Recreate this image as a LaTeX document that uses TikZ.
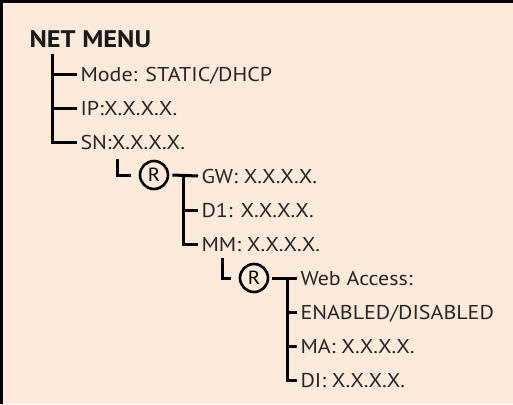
\documentclass[tikz,border=0pt]{standalone}
\usepackage{fontspec}
\setmainfont{PT Sans}[FakeStretch=1.1]
\definecolor{bg}{HTML}{FDEADB}
\begin{document}
\begin{tikzpicture}[x=1pt,y=-1pt,
  line width=3pt, line cap=butt,
  item/.style={anchor=west, inner xsep=2pt, inner ysep=0pt, text height=14pt, text depth=0pt,
    font=\fontsize{20}{20}\selectfont, text=black!85},
  title/.style={anchor=west, inner sep=0pt, text height=17pt, text depth=0pt,
    font=\fontsize{24}{24}\selectfont\bfseries, text=black!90},
  rmark/.style={circle, draw, line width=2.6pt, minimum size=28pt, inner sep=0pt,
    font=\fontsize{19}{19}\selectfont},
  tree/.style={draw, line width=3pt}]
\fill[bg] (0,0) rectangle (513,404);
\useasboundingbox (0,0) rectangle (513,404);
\draw[line width=3pt] (1.5,404) -- (1.5,1.5) -- (513,1.5);

% level 0
\node[title] (net) at (28,39) {NET MENU};
\node[item] (mode) at (77,74) {Mode: STATIC/DHCP};
\node[item] (ip) at (77,108) {IP:X.X.X.X.};
\node[item] (sn) at (77,142) {SN:X.X.X.X.};
\coordinate (t0) at (52,54);
\draw[tree] (t0) |- (sn.west);
\draw[tree] (t0 |- mode.west) -- (mode.west);
\draw[tree] (t0 |- ip.west) -- (ip.west);

% level 1
\node[rmark] (r1) at (154,175) {R};
\node[item] (gw) at (198,176) {GW: X.X.X.X.};
\node[item] (d1) at (198,210) {D1: X.X.X.X.};
\node[item] (mm) at (198,244) {MM: X.X.X.X.};
\coordinate (l1) at (117,159);
\draw[tree] (l1) |- ([xshift=-8pt]r1.west);
\draw[tree] ([xshift=3pt]r1.east) -- (gw.west);
\coordinate (t1) at (183,176);
\draw[tree] (t1) |- (mm.west);
\draw[tree] (t1 |- d1.west) -- (d1.west);

% level 2
\node[rmark] (r2) at (254,278) {R};
\node[item] (web) at (297,278) {Web Access:};
\node[item] (en) at (297,312) {ENABLED/DISABLED};
\node[item] (ma) at (297,346) {MA: X.X.X.X.};
\node[item] (di) at (297,380) {DI: X.X.X.X.};
\coordinate (l2) at (222,258);
\draw[tree] (l2) |- ([xshift=-8pt]r2.west);
\draw[tree] ([xshift=3pt]r2.east) -- (web.west);
\coordinate (t2) at (287,278);
\draw[tree] (t2) |- (di.west);
\draw[tree] (t2 |- en.west) -- (en.west);
\draw[tree] (t2 |- ma.west) -- (ma.west);
\end{tikzpicture}
\end{document}
